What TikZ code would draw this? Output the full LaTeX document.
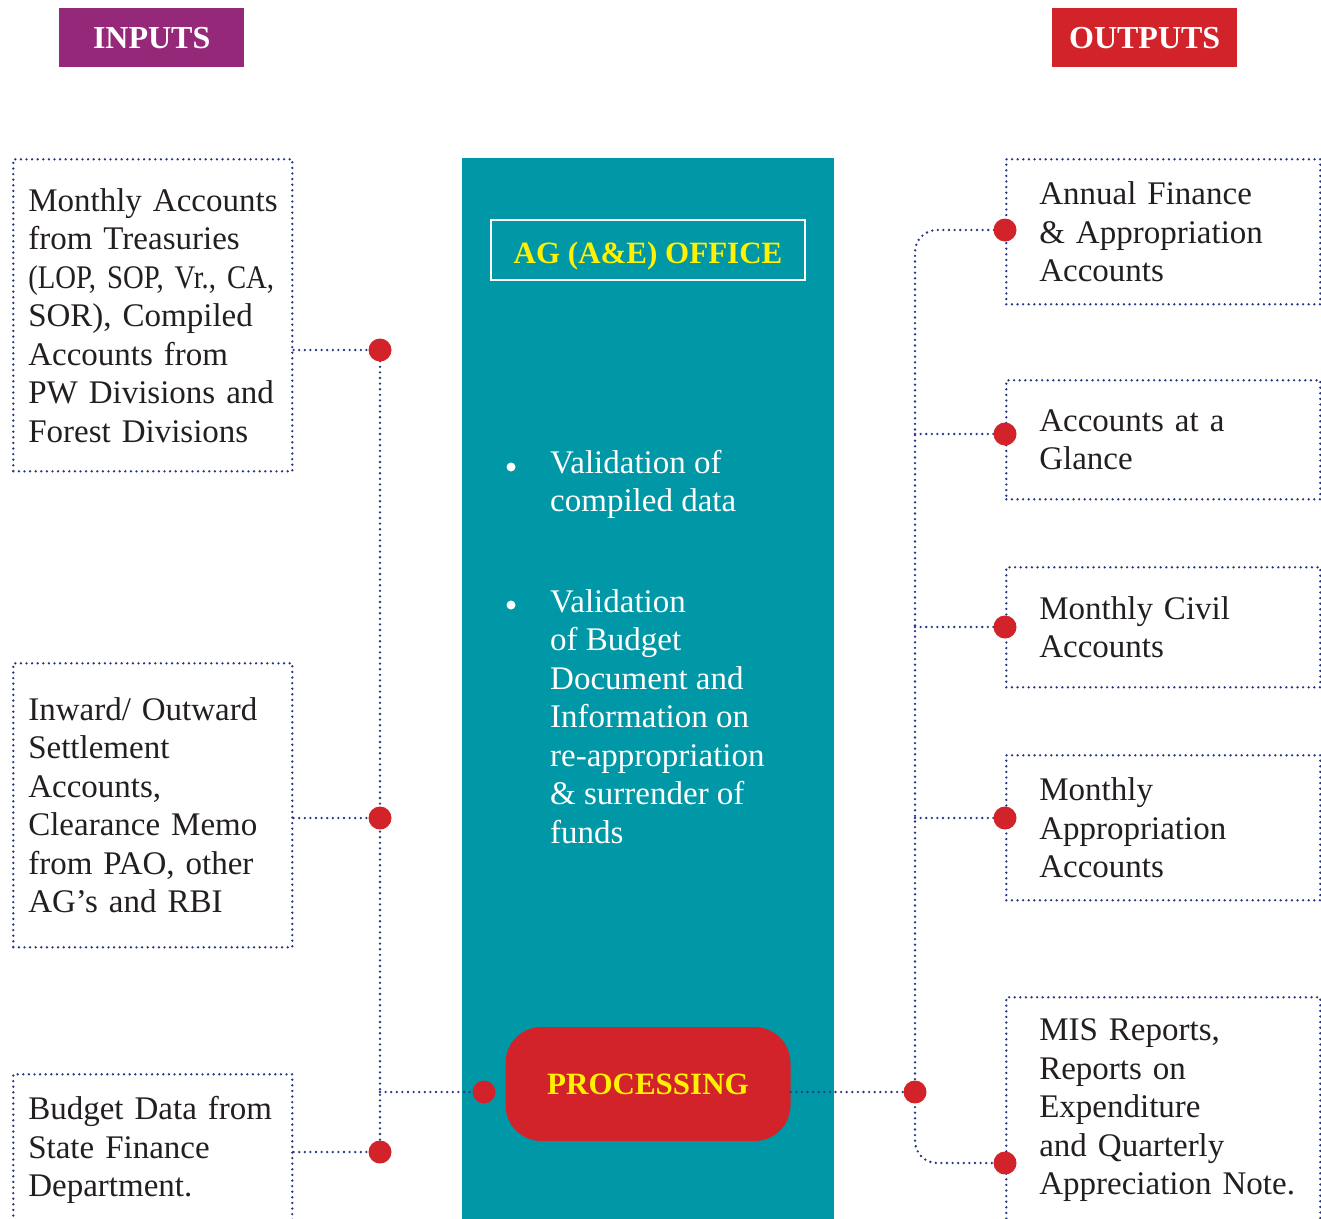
\documentclass[tikz,border=0pt]{standalone}
\usepackage{fontspec}
\setmainfont{Liberation Serif}
\usetikzlibrary{positioning}
\definecolor{AGTeal}{HTML}{0097A6}
\definecolor{InPurple}{HTML}{96287A}
\definecolor{OutRed}{HTML}{D2232A}
\definecolor{OfficeYellow}{HTML}{FFF200}
\definecolor{LinkBlue}{HTML}{263787}
\definecolor{TextDark}{HTML}{231F20}
\newcommand{\bodyfont}{\fontsize{33}{38.5}\selectfont}
\newcommand{\headfont}{\fontsize{32}{36}\selectfont\bfseries}
% narrower setting for the one long line
\newcommand{\narrowline}[1]{{\addfontfeature{FakeStretch=0.87}#1}}

\begin{document}
\begin{tikzpicture}[
				x=1pt, y=-1pt,
				header/.style={
					anchor=north west,
					minimum width=185pt,
					minimum height=59pt,
					inner sep=0pt,
					text=white,
					font=\headfont
				},
				dotline/.style={
					draw=LinkBlue,
					line width=2.6pt,
					dash pattern=on 0pt off 5.6pt,
					line cap=round
				},
				inbox/.style={
					dotline,
					anchor=north west,
					text width=279pt,
					inner xsep=0pt,
					align=left,
					text=TextDark,
					font=\bodyfont,
					execute at begin node={\leftskip=15pt\rightskip=-30pt plus 1fil}
				},
				outbox/.style={
					inbox,
					text width=314pt,
					execute at begin node={\leftskip=33pt\rightskip=-30pt plus 1fil}
				},
				junction/.style={
					circle,
					fill=OutRed,
					minimum size=23pt,
					inner sep=0pt
				},
				bullet/.style={
					circle,
					fill=white,
					minimum size=9pt,
					inner sep=0pt
				},
				steptext/.style={
					anchor=north west,
					align=left,
					inner sep=0pt,
					text=white,
					font=\bodyfont
				}
				]
				\clip (0,0) rectangle (1321,1218);
				% headings
				\node[header, fill=InPurple] (inputs) at (59,8) {INPUTS};
				\node[header, fill=OutRed] (outputs) at (1052,8) {OUTPUTS};
				% office panel
				\node[fill=AGTeal, anchor=north west, minimum width=372pt, minimum height=1100pt, inner sep=0pt] (office) at (462,158) {};
				\node[draw=white, line width=1.5pt, minimum width=314pt, minimum height=60pt, inner sep=0pt, text height=26pt, text depth=0pt, text=OfficeYellow, font=\fontsize{31}{34}\selectfont\bfseries] (agoffice) at (648,250) {AG (A\&E) OFFICE};
				\node[bullet] (b1) at (511,467) {};
				\node[steptext] (check1) at (550,450) {Validation of\\compiled data};
				\node[bullet] (b2) at (511,605) {};
				\node[steptext] (check2) at (550,589) {Validation\\of Budget\\Document and\\Information on\\re-appropriation\\\& surrender of\\funds};
				\node[fill=OutRed, rounded corners=36pt, minimum width=285pt, minimum height=114pt, inner sep=0pt, text=OfficeYellow, font=\fontsize{31}{34}\selectfont\bfseries] (proc) at (648,1084) {PROCESSING};
				% inputs
				\node[inbox, minimum height=312pt] (treasury) at (12,158) {Monthly Accounts\\from Treasuries\\\narrowline{(LOP, SOP, Vr., CA,}\\SOR), Compiled\\Accounts from\\PW Divisions and\\Forest Divisions};
				\node[inbox, minimum height=284pt] (settle) at (12,662) {Inward/ Outward\\Settlement\\Accounts,\\Clearance Memo\\from PAO, other\\AG’s and RBI};
				\node[inbox, minimum height=152pt] (budget) at (12,1073) {Budget Data from\\State Finance\\Department.};
				% outputs
				\node[outbox, minimum height=145pt] (annual) at (1005,158) {Annual Finance\\\& Appropriation\\Accounts};
				\node[outbox, minimum height=119pt] (glance) at (1005,379) {Accounts at a\\Glance};
				\node[outbox, minimum height=120pt] (civil) at (1005,566) {Monthly Civil\\Accounts};
				\node[outbox, minimum height=145pt] (approp) at (1005,754) {Monthly\\Appropriation\\Accounts};
				\node[outbox, minimum height=226pt] (mis) at (1005,996) {MIS Reports,\\Reports on\\Expenditure\\and Quarterly\\Appreciation Note.};
				% junction points
				\coordinate (j1) at (380,350);
				\coordinate (j2) at (380,818);
				\coordinate (j3) at (380,1152);
				\coordinate (jp) at (484,1092);
				\coordinate (jo) at (915,1092);
				\coordinate (o1) at (annual.west |- 0,230);
				\coordinate (o2) at (glance.west |- 0,434);
				\coordinate (o3) at (civil.west |- 0,627);
				\coordinate (o4) at (approp.west |- 0,818);
				\coordinate (o5) at (mis.west |- 0,1163);
				% links
				\draw[dotline] (j1 -| treasury.east) -- (j1);
				\draw[dotline] (j2 -| settle.east) -- (j2);
				\draw[dotline] (j3 -| budget.east) -- (j3);
				\draw[dotline] (j1) -- (j2) -- (j3);
				\draw[dotline] (jp -| j1) -- (jp);
				\draw[dotline] (jo -| proc.east) -- (jo);
				\draw[dotline, rounded corners=22pt] (o1) -| (jo) |- (o5);
				\draw[dotline] (o2 -| jo) -- (o2);
				\draw[dotline] (o3 -| jo) -- (o3);
				\draw[dotline] (o4 -| jo) -- (o4);
				\foreach \j in {j1, j2, j3, jp, jo, o1, o2, o3, o4, o5}
					\node[junction] at (\j) {};
			\end{tikzpicture}
\end{document}
